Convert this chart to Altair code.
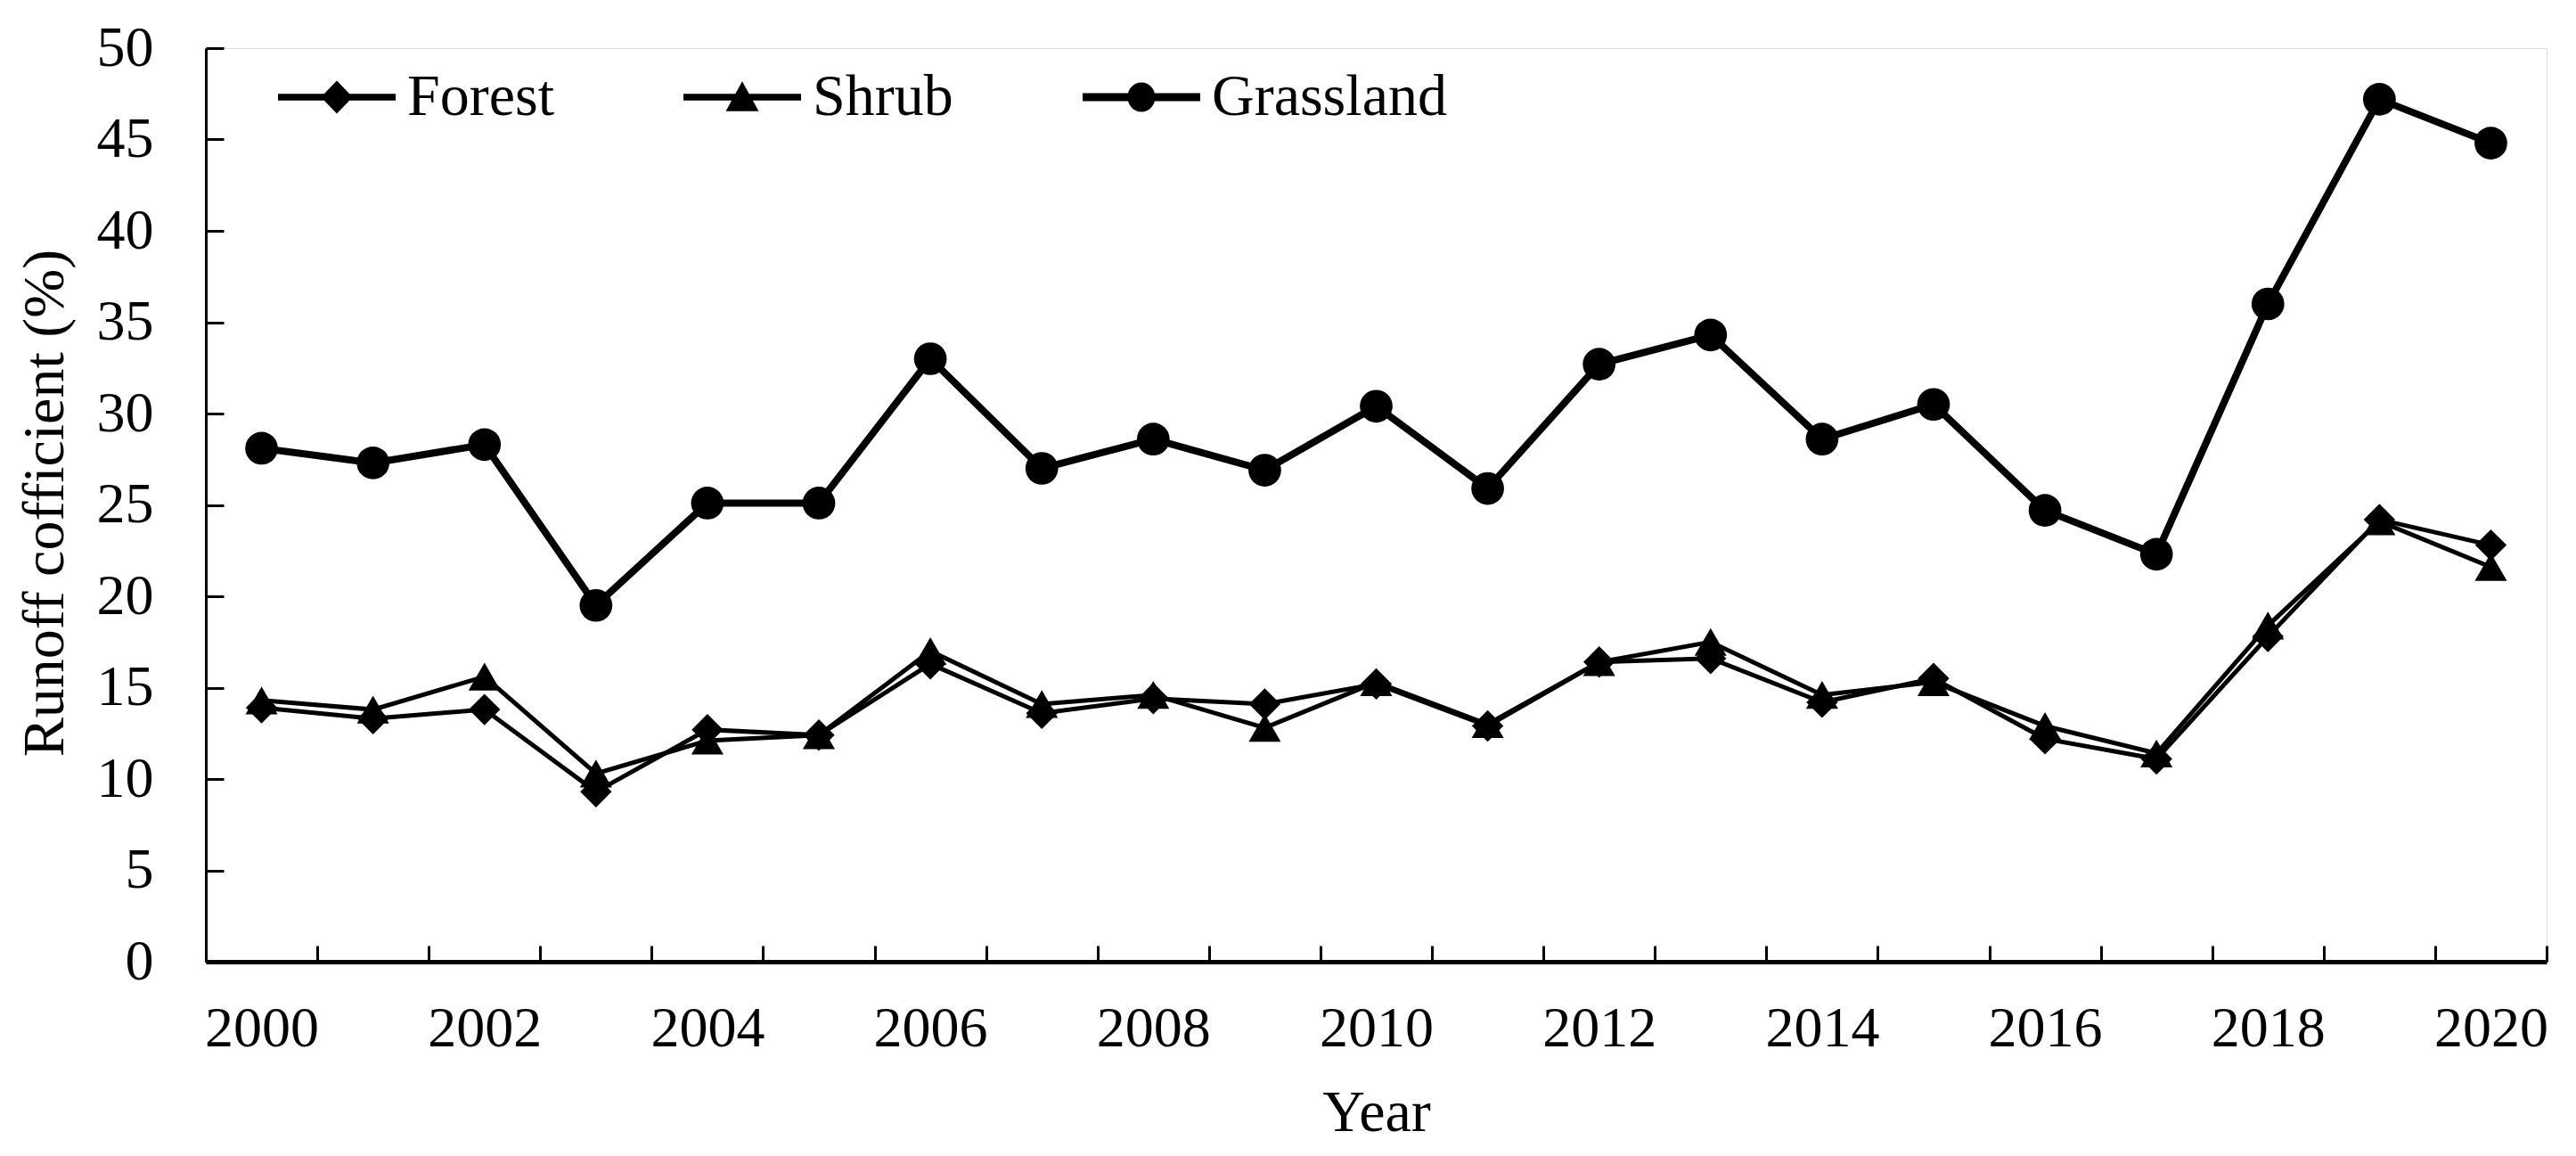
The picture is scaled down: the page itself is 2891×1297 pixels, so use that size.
import altair as alt
import pandas as pd

# ---------------- data ----------------
years = list(range(2000, 2021))
forest = [13.9, 13.3, 13.8, 9.3, 12.7, 12.4, 16.3, 13.6, 14.4, 14.1, 15.2,
          12.9, 16.4, 16.6, 14.2, 15.5, 12.2, 11.1, 17.8, 24.2, 22.8]
shrub = [14.3, 13.8, 15.6, 10.3, 12.1, 12.4, 17.0, 14.1, 14.6, 12.8, 15.3,
         13.0, 16.4, 17.5, 14.6, 15.3, 12.9, 11.4, 18.4, 24.1, 21.6]
grassland = [28.1, 27.3, 28.3, 19.5, 25.1, 25.1, 33.0, 27.0, 28.6, 26.9, 30.4,
             25.9, 32.7, 34.3, 28.6, 30.5, 24.7, 22.3, 36.0, 47.2, 44.8]
series_names = ["Forest", "Shrub", "Grassland"]
x_label_values = list(range(2000, 2021, 2))
y_tick_values = list(range(0, 51, 5))

rows = []
for name, vals in zip(series_names, [forest, shrub, grassland]):
    for yr, v in zip(years, vals):
        rows.append({"Year": yr, "value": v, "series": name})
df = pd.DataFrame(rows)

# category boundaries (Excel-style ticks between years)
boundaries = [y - 0.5 for y in years] + [years[-1] + 0.5]

# ---------------- styling ----------------
W, H = 2627, 1025
FONT = "Liberation Serif"

x_scale = alt.Scale(domain=[years[0] - 0.5, years[-1] + 0.5], nice=False, zero=False)
y_scale = alt.Scale(domain=[0, 50], nice=False, zero=True)

# legend symbols: line segment + marker (unit coords, scaled by sqrt(size)/2)
r, ry = 0.235, 0.25
k, ky = 0.5523 * r, 0.5523 * ry
circle_path = (f"M{-r},0 C{-r},{-ky} {-k},{-ry} 0,{-ry} "
               f"C{k},{-ry} {r},{-ky} {r},0 "
               f"C{r},{ky} {k},{ry} 0,{ry} "
               f"C{-k},{ry} {-r},{ky} {-r},0 Z")
legend_paths = [
    "M-1,-0.055L1,-0.055L1,0.055L-1,0.055Z M0,-0.28L0.27,0L0,0.28L-0.27,0Z",
    "M-1,-0.055L1,-0.055L1,0.055L-1,0.055Z M0,-0.27L0.28,0.24L-0.28,0.24Z",
    "M-1,-0.07L1,-0.07L1,0.07L-1,0.07Z " + circle_path,
]

x_main_axis = alt.Axis(values=x_label_values, format="d", orient="bottom",
                       ticks=False, tickSize=0, grid=False,
                       labelPadding=43, labelFontSize=64, labelFont=FONT,
                       labelColor="black", labelFlush=False,
                       domain=True, domainColor="black", domainWidth=5,
                       title="Year", titleFont=FONT, titleFontSize=66,
                       titleFontWeight="normal", titleColor="black",
                       titleBaseline="alphabetic", titleY=189)
y_main_axis = alt.Axis(values=y_tick_values, orient="left",
                       ticks=False, tickSize=0, grid=False,
                       labelPadding=59, labelFontSize=64, labelFont=FONT,
                       labelColor="black", labelFlush=False,
                       domain=True, domainColor="black", domainWidth=3,
                       title="Runoff cofficient (%)", titleFont=FONT,
                       titleFontSize=66, titleFontWeight="normal",
                       titleColor="black", titleAngle=270,
                       titleBaseline="bottom", titleX=-147, titleY=510)

thin_lines = alt.Chart(df).transform_filter(
    "datum.series != 'Grassland'"
).mark_line(color="black", strokeWidth=5, strokeJoin="miter").encode(
    x=alt.X("Year:Q", scale=x_scale, axis=x_main_axis),
    y=alt.Y("value:Q", scale=y_scale, axis=y_main_axis),
    detail="series:N",
)

thick_line = alt.Chart(df).transform_filter(
    "datum.series == 'Grassland'"
).mark_line(color="black", strokeWidth=8, strokeJoin="miter").encode(
    x=alt.X("Year:Q", scale=x_scale, axis=None),
    y=alt.Y("value:Q", scale=y_scale, axis=None),
)

points = alt.Chart(df).mark_point(filled=True, color="black", opacity=1, strokeWidth=0).encode(
    x=alt.X("Year:Q", scale=x_scale,
            axis=alt.Axis(values=boundaries, orient="top", offset=-H,
                          labels=False, ticks=True, tickSize=18, tickWidth=3,
                          tickColor="black", domain=False, grid=False, title=None)),
    y=alt.Y("value:Q", scale=y_scale,
            axis=alt.Axis(values=y_tick_values, orient="right", offset=-W,
                          labels=False, ticks=True, tickSize=20, tickWidth=3,
                          tickColor="black", domain=False, grid=False, title=None)),
    shape=alt.Shape("series:N",
                    scale=alt.Scale(domain=series_names,
                                    range=["diamond", "triangle-up", "circle"]),
                    legend=None),
    size=alt.Size("series:N",
                  scale=alt.Scale(domain=series_names, range=[1250, 1350, 1150]),
                  legend=None),
)

legend_layer = alt.Chart(df).transform_filter("datum.value < -1000").mark_point(
    filled=True, color="black", opacity=1, strokeWidth=0, size=17424
).encode(
    x=alt.X("Year:Q", scale=x_scale, axis=None),
    y=alt.Y("value:Q", scale=y_scale, axis=None),
    shape=alt.Shape("series:N",
                    scale=alt.Scale(domain=series_names, range=legend_paths),
                    legend=alt.Legend(orient="none", legendX=81, legendY=-11,
                                      direction="horizontal", title=None,
                                      labelFont=FONT, labelFontSize=66,
                                      labelColor="black", labelOffset=13,
                                      labelLimit=1000, columnPadding=145,
                                      symbolSize=17424, symbolFillColor="black",
                                      symbolStrokeWidth=0, symbolOpacity=1,
                                      padding=0)),
)

chart = alt.layer(thin_lines, thick_line, points, legend_layer).resolve_scale(
    shape="independent"
).resolve_axis(
    x="independent", y="independent"
).properties(
    width=W, height=H,
    autosize=alt.AutoSizeParams(type="none"),
    padding={"left": 223, "top": 46, "right": 25, "bottom": 214},
).configure_view(stroke=None).configure(background="white")

chart.save("out.html", embed_options={"renderer": "svg", "actions": False})
